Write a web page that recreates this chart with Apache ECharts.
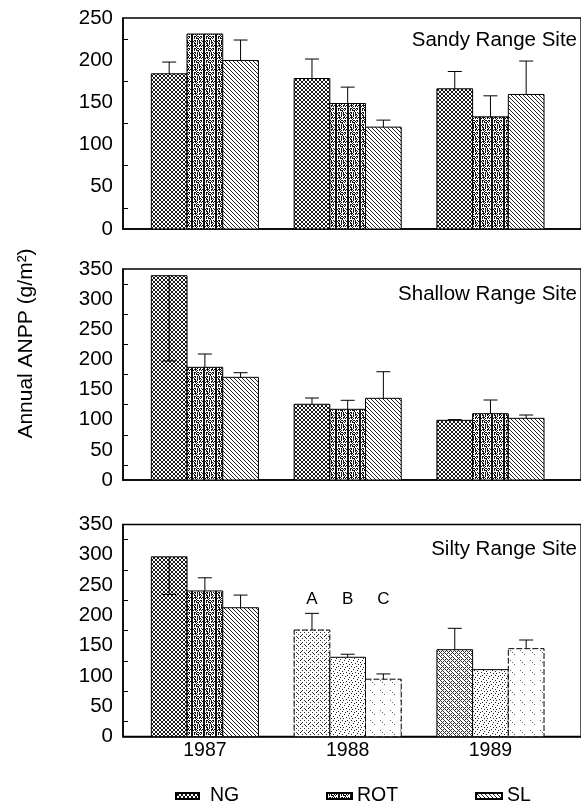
<!DOCTYPE html>
<html><head><meta charset="utf-8">
<script src="https://cdn.jsdelivr.net/npm/echarts@6/dist/echarts.min.js"></script>
<style>html,body{margin:0;padding:0;background:#fff}#c{width:581px;height:808px}</style>
</head><body><div id="c"></div>
<script>
// ---------- data ----------
const years = ['1987', '1988', '1989'];
const groups = ['NG', 'ROT', 'SL'];
const sites = ['Sandy Range Site', 'Shallow Range Site', 'Silty Range Site'];
const yMax = [250, 350, 350];
const yTickStep = 50;

// Sandy range site: means and error-bar ends (g/m2)
const sandyNG = [183.9, 178.3, 166.1];
const sandyROT = [231.0, 148.7, 132.9];
const sandySL = [199.7, 120.7, 159.4];
const sandyNGErr = [197.8, 201.4, 186.6];
const sandyROTErr = [null, 168.1, 157.8];
const sandySLErr = [223.9, 129.0, 199.0];

// Shallow range site
const shallowNG = [338.9, 125.6, 99.0];
const shallowROT = [186.9, 117.3, 110.0];
const shallowSL = [170.3, 135.5, 102.3];
const shallowNGErr = [197.4, 136.0, 100.2];
const shallowROTErr = [209.0, 132.2, 132.7];
const shallowSLErr = [178.0, 179.6, 107.8];

// Silty range site
const siltyNG = [296.6, 175.8, 143.3];
const siltyROT = [240.3, 130.8, 110.4];
const siltySL = [212.6, 94.6, 145.0];
const siltyNGErr = [234.6, 203.3, 178.6];
const siltyROTErr = [262.0, 135.8, null];
const siltySLErr = [233.5, 103.3, 159.3];

const letters1988 = ['A', 'B', 'C'];

// ---------- patterns ----------
function makePattern(rows, color) {
  const h = rows.length, w = rows[0].length;
  const c = document.createElement('canvas'); c.width = w; c.height = h;
  const ctx = c.getContext('2d');
  ctx.fillStyle = '#fff'; ctx.fillRect(0, 0, w, h);
  ctx.fillStyle = color || '#000';
  for (let y = 0; y < h; y++) for (let x = 0; x < w; x++) if (rows[y][x] === '#') ctx.fillRect(x, y, 1, 1);
  return { image: c, repeat: 'repeat' };
}
const patNG = makePattern(['#..#', '.##.', '.##.', '#..#'], '#1a1a1a');
const patROT = makePattern([
  '#.##.##.##.#',
  '#.#.#..#.#.#',
  '#.#.###.#..#',
  '#.....#....#',
  '#.##.#.#.#.#',
  '##.#.#.#..##',
  '#.#..#.##..#',
  '#.##.#.#.#.#',
  '#..#.#..#..#',
  '#.###..##.##',
  '##.#.#.#.#.#',
  '#...#......#'
], '#111');
const patSL = makePattern(['#...', '.#..', '..#.', '...#'], '#222');
const fadNG = makePattern([
  '#...#...',
  '........',
  '..#...#.',
  '.....#..',
  '#...#...',
  '.#......',
  '..#...#.',
  '........'
], '#333');
const fadNG2 = makePattern([
  '#...#...',
  '.#.#.#..',
  '..#...#.',
  '.#.#.#.#',
  '#...#...',
  '.#.#.#.#',
  '..#...#.',
  '.#.#...#'
], '#333');
const fadROT = makePattern([
  '#....#...',
  '...#.....',
  '.......#.',
  '..#......',
  '......#..',
  '#........',
  '....#....',
  '.#.....#.',
  '.........'
], '#222');
const fadSL = makePattern([
  '#.........',
  '..........',
  '..#.......',
  '..........',
  '....#.....',
  '..........',
  '..........',
  '..........',
  '..........',
  '..........'
], '#666');
const patterns = [patNG, patROT, patSL];
const faded = [fadNG, fadROT, fadSL];

const panels = [
  { vals: [sandyNG, sandyROT, sandySL], caps: [sandyNGErr, sandyROTErr, sandySLErr] },
  { vals: [shallowNG, shallowROT, shallowSL], caps: [shallowNGErr, shallowROTErr, shallowSLErr] },
  { vals: [siltyNG, siltyROT, siltySL], caps: [siltyNGErr, siltyROTErr, siltySLErr] }
];

const FONT = 'Liberation Sans, Arial, Helvetica, sans-serif';
const BAR_W = 0.25;
const offsets = [-BAR_W, 0, BAR_W];
const gridTops = [18, 269, 524.5];
const gridHeights = [211, 211, 212];

const grids = [], xAxes = [], yAxes = [], series = [];
for (let p = 0; p < 3; p++) {
  grids.push({ left: 123, top: gridTops[p], width: 470, height: gridHeights[p],
    show: true, borderColor: '#000', borderWidth: 1.3, backgroundColor: 'transparent' });
  xAxes.push({ gridIndex: p, type: 'value', min: 0.4266, max: 3.634,
    axisLine: { show: true, onZero: false, lineStyle: { color: '#000', width: 1.6 } },
    axisTick: { show: false }, splitLine: { show: false },
    axisLabel: { show: p === 2, customValues: [1, 2, 3], color: '#000', fontSize: 19.5, fontFamily: FONT, margin: 4,
      formatter: v => years[Math.round(v) - 1] || '' } });
  yAxes.push({ gridIndex: p, type: 'value', min: 0, max: yMax[p], interval: yTickStep,
    axisLine: { show: true, lineStyle: { color: '#000', width: 1.6 } },
    axisTick: { show: false, inside: true },
    minorTick: { show: true, splitNumber: 2, length: 5, lineStyle: { color: '#000', width: 1 } },
    splitLine: { show: false }, minorSplitLine: { show: false },
    axisLabel: { color: '#000', fontSize: 20.5, fontFamily: FONT, margin: 10 } });
  for (let g = 0; g < 3; g++) {
    const vals = panels[p].vals[g];
    const caps = panels[p].caps[g];
    series.push({
      type: 'custom', name: groups[g], xAxisIndex: p, yAxisIndex: p, clip: true,
      itemStyle: { color: patterns[g], borderColor: '#000', borderWidth: 1 },
      encode: { x: 0, y: 1 },
      data: years.map((y, i) => [i + 1, vals[i]]),
      renderItem: function (params, api) {
        const i = params.dataIndex;
        const xc = api.value(0) + offsets[g];
        const v = api.value(1);
        const a = api.coord([xc - BAR_W / 2, v]);
        const b = api.coord([xc + BAR_W / 2, 0]);
        const isFaded = p === 2 && i >= 1;
        let fill = isFaded ? faded[g] : patterns[g];
        if (p === 2 && i === 2 && g === 0) fill = fadNG2;
        const children = [{
          type: 'rect',
          shape: { x: a[0], y: a[1], width: b[0] - a[0], height: b[1] - a[1] },
          style: { fill: fill, stroke: '#000', lineWidth: 1,
            lineDash: (isFaded && g === 2) || (p === 2 && i === 1 && g === 0) ? [6, 2] : null }
        }];
        const cap = caps[i];
        if (cap != null) {
          const t = api.coord([xc, v]);
          const c = api.coord([xc, cap]);
          children.push({ type: 'line', shape: { x1: t[0], y1: t[1], x2: c[0], y2: c[1] }, style: { stroke: '#000', lineWidth: 1 } });
          children.push({ type: 'line', shape: { x1: c[0] - 7, y1: c[1], x2: c[0] + 7, y2: c[1] }, style: { stroke: '#000', lineWidth: 1 } });
        }
        if (p === 2 && i === 1) {
          const topCap = Math.max(siltyNGErr[1], siltyROTErr[1], siltySLErr[1]);
          const ly = api.coord([xc, topCap])[1] - 14;
          children.push({ type: 'text', x: api.coord([xc, 0])[0], y: ly,
            style: { text: letters1988[g], align: 'center', verticalAlign: 'middle', fontSize: 17, fontFamily: FONT, fill: '#000' } });
        }
        return { type: 'group', children };
      }
    });
  }
}

const legendBase = { top: 781, itemWidth: 23, itemHeight: 6, icon: 'rect', selectedMode: false,
  textStyle: { fontSize: 19.5, fontFamily: FONT, color: '#000' } };
const legends = [
  Object.assign({}, legendBase, { data: ['NG'], left: 170, textStyle: Object.assign({}, legendBase.textStyle, { padding: [0, 0, 0, 6] }) }),
  Object.assign({}, legendBase, { data: ['ROT'], left: 321, itemWidth: 25 }),
  Object.assign({}, legendBase, { data: ['SL'], left: 470, itemWidth: 26 })
];

const titleY = [40, 294.5, 549];
const graphic = sites.map((s, p) => ({ type: 'text', x: 577, y: titleY[p],
  style: { text: s, align: 'right', verticalAlign: 'middle', fontSize: 20.5, fontFamily: FONT, fill: '#000' } }));
graphic.push({ type: 'text', x: 26, y: 343.5, rotation: Math.PI / 2,
  style: { text: 'Annual ANPP (g/m²)', align: 'center', verticalAlign: 'middle', fontSize: 21, fontFamily: FONT, fill: '#000' } });

const chart = echarts.init(document.getElementById('c'), null, { renderer: 'canvas' });
chart.setOption({
  animation: false,
  backgroundColor: '#fff',
  grid: grids, xAxis: xAxes, yAxis: yAxes, series: series,
  legend: legends, graphic: graphic
});
</script></body></html>
